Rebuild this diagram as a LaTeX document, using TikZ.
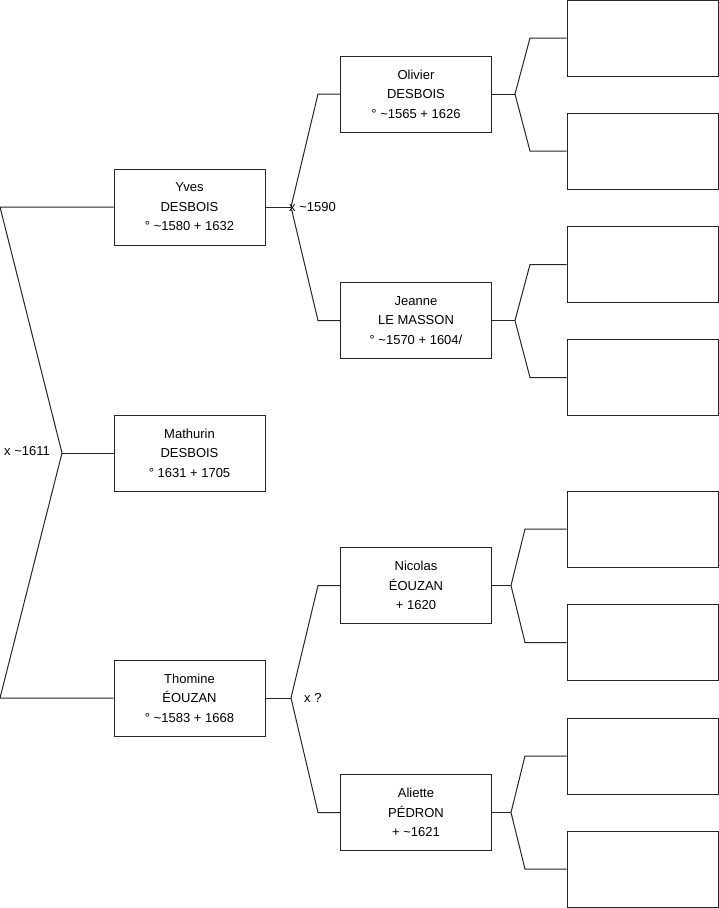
\documentclass[tikz,border=0pt]{standalone}
\usepackage{fontspec}
\setmainfont{Liberation Sans}
\begin{document}
\begin{tikzpicture}[x=1pt,y=-1pt,
  person/.style={draw=black!85,line width=1pt,minimum width=151pt,minimum height=76pt,inner sep=0pt,align=center,font=\fontsize{13}{19.5}\selectfont},
  empty/.style={person},
  link/.style={draw=black!85,line width=1pt},
  lbl/.style={font=\fontsize{13}{15}\selectfont,inner sep=0pt}]
\useasboundingbox[fill=white] (0,0) rectangle (719,908);
% generation 1
\node[person] (yves) at (189.5,207) {Yves\\DESBOIS\\° \textasciitilde1580 + 1632};
\node[person] (mathurin) at (189.5,453) {Mathurin\\DESBOIS\\° 1631 + 1705};
\node[person] (thomine) at (189.5,698) {Thomine\\ÉOUZAN\\° \textasciitilde1583 + 1668};
% generation 2
\node[person] (olivier) at (416,94) {Olivier\\DESBOIS\\° \textasciitilde1565 + 1626};
\node[person] (jeanne) at (416,320.5) {Jeanne\\LE MASSON\\° \textasciitilde1570 + 1604/};
\node[person] (nicolas) at (416,585.5) {Nicolas\\ÉOUZAN\\ + 1620};
\node[person] (aliette) at (416,812.5) {Aliette\\PÉDRON\\ + \textasciitilde1621};
% generation 3 (empty)
\node[empty] (e1) at (642.5,38) {};
\node[empty] (e2) at (642.5,151) {};
\node[empty] (e3) at (642.5,264.5) {};
\node[empty] (e4) at (642.5,377.5) {};
\node[empty] (e5) at (642.5,529) {};
\node[empty] (e6) at (642.5,642.5) {};
\node[empty] (e7) at (642.5,756) {};
\node[empty] (e8) at (642.5,869) {};
% junction coordinates
\coordinate (j0a) at (0,207);
\coordinate (j0) at (62,453);
\coordinate (j0b) at (0,698);
\coordinate (j1) at (291,207);
\coordinate (j1a) at (318,94);
\coordinate (j1b) at (318,320.5);
\coordinate (j2) at (291,698);
\coordinate (j2a) at (318,585.5);
\coordinate (j2b) at (318,812.5);
\coordinate (k1) at (515,94);
\coordinate (k1a) at (530,38);
\coordinate (k1b) at (530,151);
\coordinate (k2) at (515,320.5);
\coordinate (k2a) at (530,264.5);
\coordinate (k2b) at (530,377.5);
\coordinate (k3) at (511,585.5);
\coordinate (k3a) at (525,529);
\coordinate (k3b) at (525,642.5);
\coordinate (k4) at (511,812.5);
\coordinate (k4a) at (525,756);
\coordinate (k4b) at (525,869);
% connectors
\draw[link] (yves.west) -- (j0a) -- (j0) -- (j0b) -- (thomine.west);
\draw[link] (j0) -- (mathurin.west);
\draw[link] (yves.east) -- (j1);
\draw[link] (olivier.west) -- (j1a) -- (j1) -- (j1b) -- (jeanne.west);
\draw[link] (thomine.east) -- (j2);
\draw[link] (nicolas.west) -- (j2a) -- (j2) -- (j2b) -- (aliette.west);
\draw[link] (olivier.east) -- (k1);
\draw[link] (e1.west) -- (k1a) -- (k1) -- (k1b) -- (e2.west);
\draw[link] (jeanne.east) -- (k2);
\draw[link] (e3.west) -- (k2a) -- (k2) -- (k2b) -- (e4.west);
\draw[link] (nicolas.east) -- (k3);
\draw[link] (e5.west) -- (k3a) -- (k3) -- (k3b) -- (e6.west);
\draw[link] (aliette.east) -- (k4);
\draw[link] (e7.west) -- (k4a) -- (k4) -- (k4b) -- (e8.west);
% labels
\node[lbl,anchor=west] (m0) at (4,451.5) {x \textasciitilde1611};
\node[lbl,anchor=west] (m1) at (289,207) {x \textasciitilde1590};
\node[lbl,anchor=west] (m2) at (304,697.5) {x ?};
\end{tikzpicture}
\end{document}
